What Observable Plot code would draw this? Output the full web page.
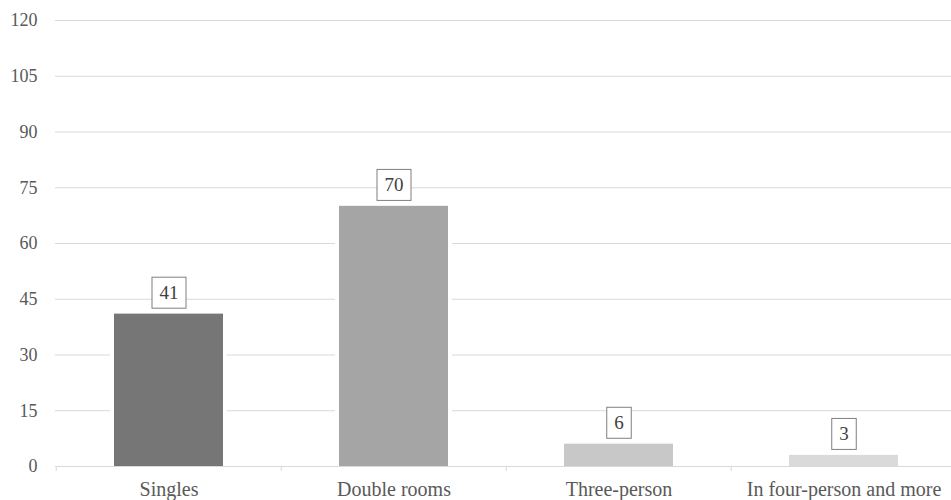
<!DOCTYPE html>
<html>
<head>
<meta charset="utf-8">
<script src="https://cdn.jsdelivr.net/npm/d3@7"></script>
<script src="https://cdn.jsdelivr.net/npm/@observablehq/plot@0.6"></script>
<style>
  body { margin: 0; background: #fff; }
  svg { display: block; }
</style>
</head>
<body>
<div id="chart"></div>
<script>
// Room types and their counts
const categories = ["Singles", "Double rooms", "Three-person", "In four-person and more"];
const values = [41, 70, 6, 3];
const barColors = ["#767676", "#a5a5a5", "#c8c8c8", "#dadada"];
const yTicks = [0, 15, 30, 45, 60, 75, 90, 105, 120];

const rooms = categories.map((c, i) => ({ category: c, value: values[i], color: barColors[i] }));

const serif = "'Liberation Serif', 'Times New Roman', Times, serif";

const chart = Plot.plot({
  width: 951,
  height: 500,
  marginLeft: 55,
  marginRight: 0,
  marginTop: 20,
  marginBottom: 34,
  style: { fontFamily: serif, background: "#fff" },
  x: { domain: categories, range: [55, 957], padding: 0, label: null },
  y: { domain: [0, 120], ticks: yTicks, label: null },
  marks: [
    // horizontal gridlines
    Plot.ruleY(yTicks.filter(t => t > 0), { stroke: "#d9d9d9", strokeWidth: 1 }),
    // bars with a white halo that interrupts the gridlines
    Plot.barY(rooms, {
      x: "category", y: "value", fill: "color",
      insetLeft: 58, insetRight: 58,
      stroke: "white", strokeWidth: 8, paintOrder: "stroke"
    }),
    // baseline
    Plot.ruleY([0], { stroke: "#d9d9d9", strokeWidth: 1 }),
    // tick marks at the category boundaries
    Plot.axisX({ tickSize: 5, tickFormat: () => "", dx: -112.75, stroke: "#d9d9d9", label: null }),
    // category labels
    Plot.axisX({ tickSize: 0, tickPadding: 15, fontSize: 20, color: "#595959", fill: "#595959", label: null }),
    // value axis
    Plot.axisY({ ticks: yTicks, tickSize: 0, tickPadding: 18, fontSize: 18, color: "#595959", fill: "#595959", label: null }),
    // value labels above the bars
    Plot.text(rooms, {
      x: "category", y: "value", text: d => String(d.value),
      dy: -21, fontSize: 19, fill: "#404040", lineAnchor: "middle"
    })
  ]
});

document.getElementById("chart").appendChild(chart);

// Frame each value label with a white box outlined in gray
chart.querySelectorAll('g[aria-label="text"] text').forEach(t => {
  const b = t.getBBox();
  const padX = 7.5, padY = 5;
  const r = document.createElementNS("http://www.w3.org/2000/svg", "rect");
  r.setAttribute("x", b.x - padX);
  r.setAttribute("y", b.y - padY);
  r.setAttribute("width", b.width + 2 * padX);
  r.setAttribute("height", b.height + 2 * padY);
  r.setAttribute("fill", "#fff");
  r.setAttribute("stroke", "#7f7f7f");
  r.setAttribute("stroke-width", 1);
  const tr = t.getAttribute("transform");
  if (tr) r.setAttribute("transform", tr);
  t.parentNode.insertBefore(r, t);
});
</script>
</body>
</html>
